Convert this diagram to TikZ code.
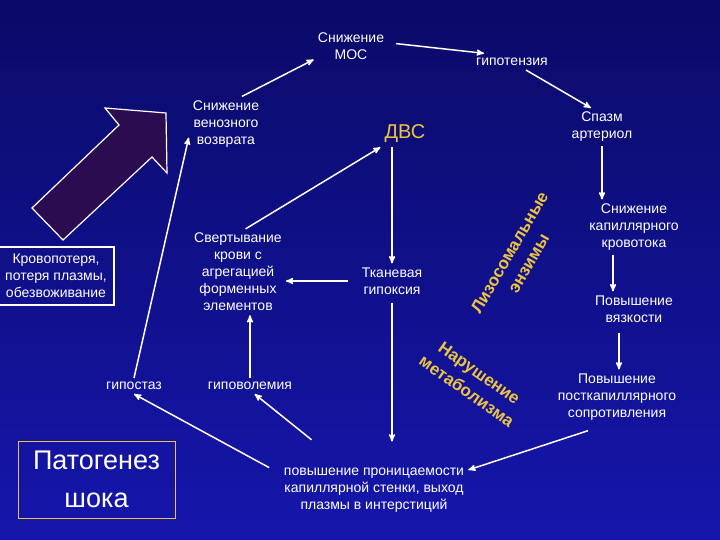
\documentclass[tikz,border=0pt]{standalone}
\usepackage{fontspec}
\setmainfont{Liberation Sans}
\usepackage{tikz}
\usetikzlibrary{arrows,positioning,calc}
\definecolor{bgtop}{RGB}{10,10,104}
\definecolor{bgmid}{RGB}{16,16,150}
\definecolor{bgbot}{RGB}{22,22,172}
\definecolor{gold}{RGB}{236,196,64}
\definecolor{plum}{RGB}{44,12,80}
\tikzset{lbl/.style={text=white,align=center,inner sep=4pt,font=\fontsize{14}{17}\selectfont}}
\tikzset{note/.style={text=gold,align=center,inner sep=0pt,font=\fontsize{17}{22}\selectfont\bfseries}}
\tikzset{link/.style={->,draw=white,line width=1.5pt}}

\begin{document}
\begin{tikzpicture}[>=stealth', x=1pt, y=-1pt]
        \shade[top color=bgtop,middle color=bgmid,bottom color=bgbot] (0,0) rectangle (720,540);
        \useasboundingbox (0,0) rectangle (720,540);
        % fat arrow on the left
        \draw[white,line width=1.2pt,fill=plum] (105,108) -- (166,113) -- (167,173) -- (152,157) -- (63,240) -- (32,208) -- (119,125) -- cycle;
        \node[lbl] (mos) at (351,46) {Снижение\\МОС};
        \node[lbl] (hypot) at (512,62) {гипотензия};
        \node[lbl] (spasm) at (602,127) {Спазм\\артериол};
        \node[lbl] (capflow) at (634,227) {Снижение\\капиллярного\\кровотока};
        \node[lbl] (visc) at (634,309) {Повышение\\вязкости};
        \node[lbl] (postcap) at (617,397) {Повышение\\посткапиллярного\\сопротивления};
        \node[lbl] (perm) at (374,490) {повышение проницаемости\\капиллярной стенки, выход\\плазмы в интерстиций};
        \node[lbl] (stasis) at (134,386) {гипостаз};
        \node[lbl] (hypovol) at (250,386) {гиповолемия};
        \node[lbl] (coag) at (238,272) {Свертывание\\крови с\\агрегацией\\форменных\\элементов};
        \node[lbl] (hypoxia) at (392,281) {Тканевая\\гипоксия};
        \node[lbl,text=gold,font=\fontsize{20}{24}\selectfont] (dvs) at (405,134) {ДВС};
        \node[lbl] (venret) at (226,124) {Снижение\\венозного\\возврата};
        \node[lbl,draw=white,line width=1.2pt,minimum width=116pt,minimum height=58pt] (loss) at (56,276) {Кровопотеря,\\потеря плазмы,\\обезвоживание};
        \node[lbl,draw=gold,line width=0.8pt,minimum width=157pt,minimum height=77pt,font=\fontsize{27}{38}\selectfont] (title) at (96.5,479.5) {Патогенез\\шока};
        \node[note,rotate=60] (lysos) at (519,258) {Лизосомальные\\энзимы};
        \node[note,rotate=-35] (metab) at (473,382) {Нарушение\\метаболизма};
        % connectors
        \draw[link] (venret.60) -- (mos.200);
        \draw[link,shorten <=8pt,shorten >=6pt] (mos.5) -- (hypot.160);
        \draw[link] (hypot.-30) -- (spasm.120);
        \draw[link] (spasm.south) -- (spasm.south |- capflow.north);
        \draw[link] ([xshift=-21pt]capflow.south) -- ([xshift=-21pt]capflow.south |- visc.north);
        \draw[link,shorten <=6pt] ([xshift=-15pt]visc.south) -- ([xshift=-15pt]visc.south |- postcap.north);
        \draw[link,shorten <=20pt] (postcap.-110) -- (perm.12);
        \draw[link] (dvs.south -| hypoxia.north) -- (hypoxia.north);
        \draw[link,shorten <=10pt] (hypoxia.west) -- (coag.east |- hypoxia.west);
        \draw[link,shorten <=4pt,shorten >=22pt] (hypoxia.south) -- (hypoxia.south |- perm.north);
        \draw[link] (coag.80) -- (dvs.south west);
        \draw[link] (hypovol.north) -- (hypovol.north |- coag.south);
        \draw[link] (stasis.north) -- (venret.200);
        \draw[link,shorten <=12pt] (perm.170) -- (stasis.south);
        \draw[link,shorten <=38pt] (perm) -- (hypovol.-60);
\end{tikzpicture}
\end{document}
